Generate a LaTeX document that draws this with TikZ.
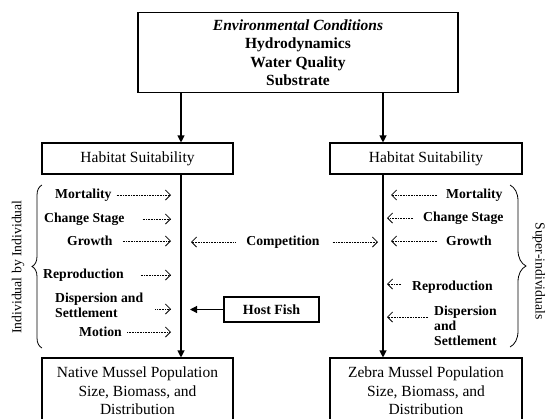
\documentclass[tikz,border=0pt]{standalone}
\usepackage{fontspec}
\setmainfont{Liberation Serif}
\usetikzlibrary{arrows.meta, decorations.pathreplacing}

\begin{document}
\begin{tikzpicture}[x=1pt, y=-1pt,
    box/.style={draw, line width=1.1pt, inner sep=0pt, align=center,
        font=\fontsize{15.5}{18.5}\selectfont},
    lbl/.style={inner sep=0pt, anchor=west, align=left,
        font=\fontsize{13.7}{15}\selectfont\bfseries},
    side/.style={inner sep=0pt, font=\fontsize{13.7}{15}\selectfont},
    dotarr/.style={line width=0.7pt, dash pattern=on 0.7pt off 0.9pt,
        -{Straight Barb[length=5pt, width=10pt, line width=0.8pt]}},
    solarr/.style={line width=1.1pt, -{Triangle[length=7pt, width=7pt]}},
    brc/.style={line width=0.8pt, decorate}]

    \useasboundingbox (0,0) rectangle (549,418);

    % Environmental conditions
    \node[box, minimum width=320, minimum height=80] (env) at (298,52.5)
        {\textbf{\textit{Environmental Conditions}}\\ \textbf{Hydrodynamics}\\
         \textbf{Water Quality}\\ \textbf{Substrate}};

    % Habitat suitability
    \node[box, minimum width=191, minimum height=31] (habL) at (137.5,158.5) {Habitat Suitability};
    \node[box, minimum width=192, minimum height=31] (habR) at (426,158.5) {Habitat Suitability};

    % Populations (cut by the page edge)
    \node[box, minimum width=191, minimum height=66] (natL) at (137.5,391)
        {Native Mussel Population\\ Size, Biomass, and\\ Distribution};
    \node[box, minimum width=192, minimum height=66] (zebR) at (426,391)
        {Zebra Mussel Population\\ Size, Biomass, and\\ Distribution};

    % Main columns
    \coordinate (colL) at (181,0);
    \coordinate (colR) at (383,0);
    \draw[solarr] (env.south -| colL) -- (habL.north -| colL);
    \draw[solarr] (env.south -| colR) -- (habR.north -| colR);
    \draw[solarr] (habL.south -| colL) -- (natL.north -| colL);
    \draw[solarr] (habR.south -| colR) -- (zebR.north -| colR);

    % Host fish
    \node[box, font=\fontsize{14}{16}\selectfont\bfseries, minimum width=95,
        minimum height=25] (host) at (271.5,309.5) {Host Fish};
    \coordinate (hostTip) at (190,309.5);
    \draw[solarr] (host.west) -- (hostTip);

    % Native side processes
    \coordinate (tipL) at (171,0);
    \node[lbl] (mortL) at (55,195) {Mortality};
    \node[lbl] (chgL) at (44,219) {Change Stage};
    \node[lbl] (grwL) at (67,241) {Growth};
    \node[lbl] (repL) at (43,275) {Reproduction};
    \node[lbl] (dspL) at (55,305.5) {Dispersion and\\Settlement};
    \node[lbl] (motL) at (79,332) {Motion};
    \draw[dotarr] ([xshift=5]mortL.east) -- (mortL.east -| tipL);
    \draw[dotarr] ([xshift=18]chgL.east) -- (chgL.east -| tipL);
    \draw[dotarr] ([xshift=10]grwL.east) -- (grwL.east -| tipL);
    \draw[dotarr] ([xshift=17]repL.east) -- (repL.east -| tipL);
    \draw[dotarr] ([xshift=12, yshift=-3.5]dspL.east) -- ([yshift=-3.5]dspL.east -| tipL);
    \draw[dotarr] ([xshift=5]motL.east) -- (motL.east -| tipL);

    % Zebra side processes
    \coordinate (tipR) at (391,0);
    \coordinate (tipRb) at (387,0);
    \node[lbl] (mortR) at (446,195) {Mortality};
    \node[lbl] (chgR) at (423,218) {Change Stage};
    \node[lbl] (grwR) at (446,241) {Growth};
    \node[lbl] (repR) at (412,287) {Reproduction};
    \node[lbl] (dspR) at (434,326) {Dispersion\\and\\Settlement};
    \draw[dotarr] ([xshift=-9]mortR.west) -- (mortR.west -| tipR);
    \draw[dotarr] ([xshift=-10]chgR.west) -- (chgR.west -| tipRb);
    \draw[dotarr] ([xshift=-9]grwR.west) -- (grwR.west -| tipR);
    \draw[dotarr] ([xshift=-11, yshift=3]repR.west) -- ([yshift=3]repR.west -| tipRb);
    \draw[dotarr] ([xshift=-6, yshift=9]dspR.west) -- ([yshift=9]dspR.west -| tipRb);

    % Competition
    \node[lbl, anchor=center] (comp) at (283,242) {Competition};
    \coordinate (compL) at (191,242);
    \coordinate (compR) at (378,242);
    \draw[dotarr] ([xshift=-11]comp.west) -- (compL);
    \draw[dotarr] ([xshift=13]comp.east) -- (compR);

    % Braces
    \draw[brc, decoration={brace, amplitude=10pt}] (42,348) -- (42,185);
    \draw[brc, decoration={brace, amplitude=16pt}] (510,185) -- (510,347);
    \node[side, rotate=90] (indv) at (18,267) {Individual by Individual};
    \node[side, rotate=-90] (super) at (539,271) {Super-individuals};
\end{tikzpicture}
\end{document}
